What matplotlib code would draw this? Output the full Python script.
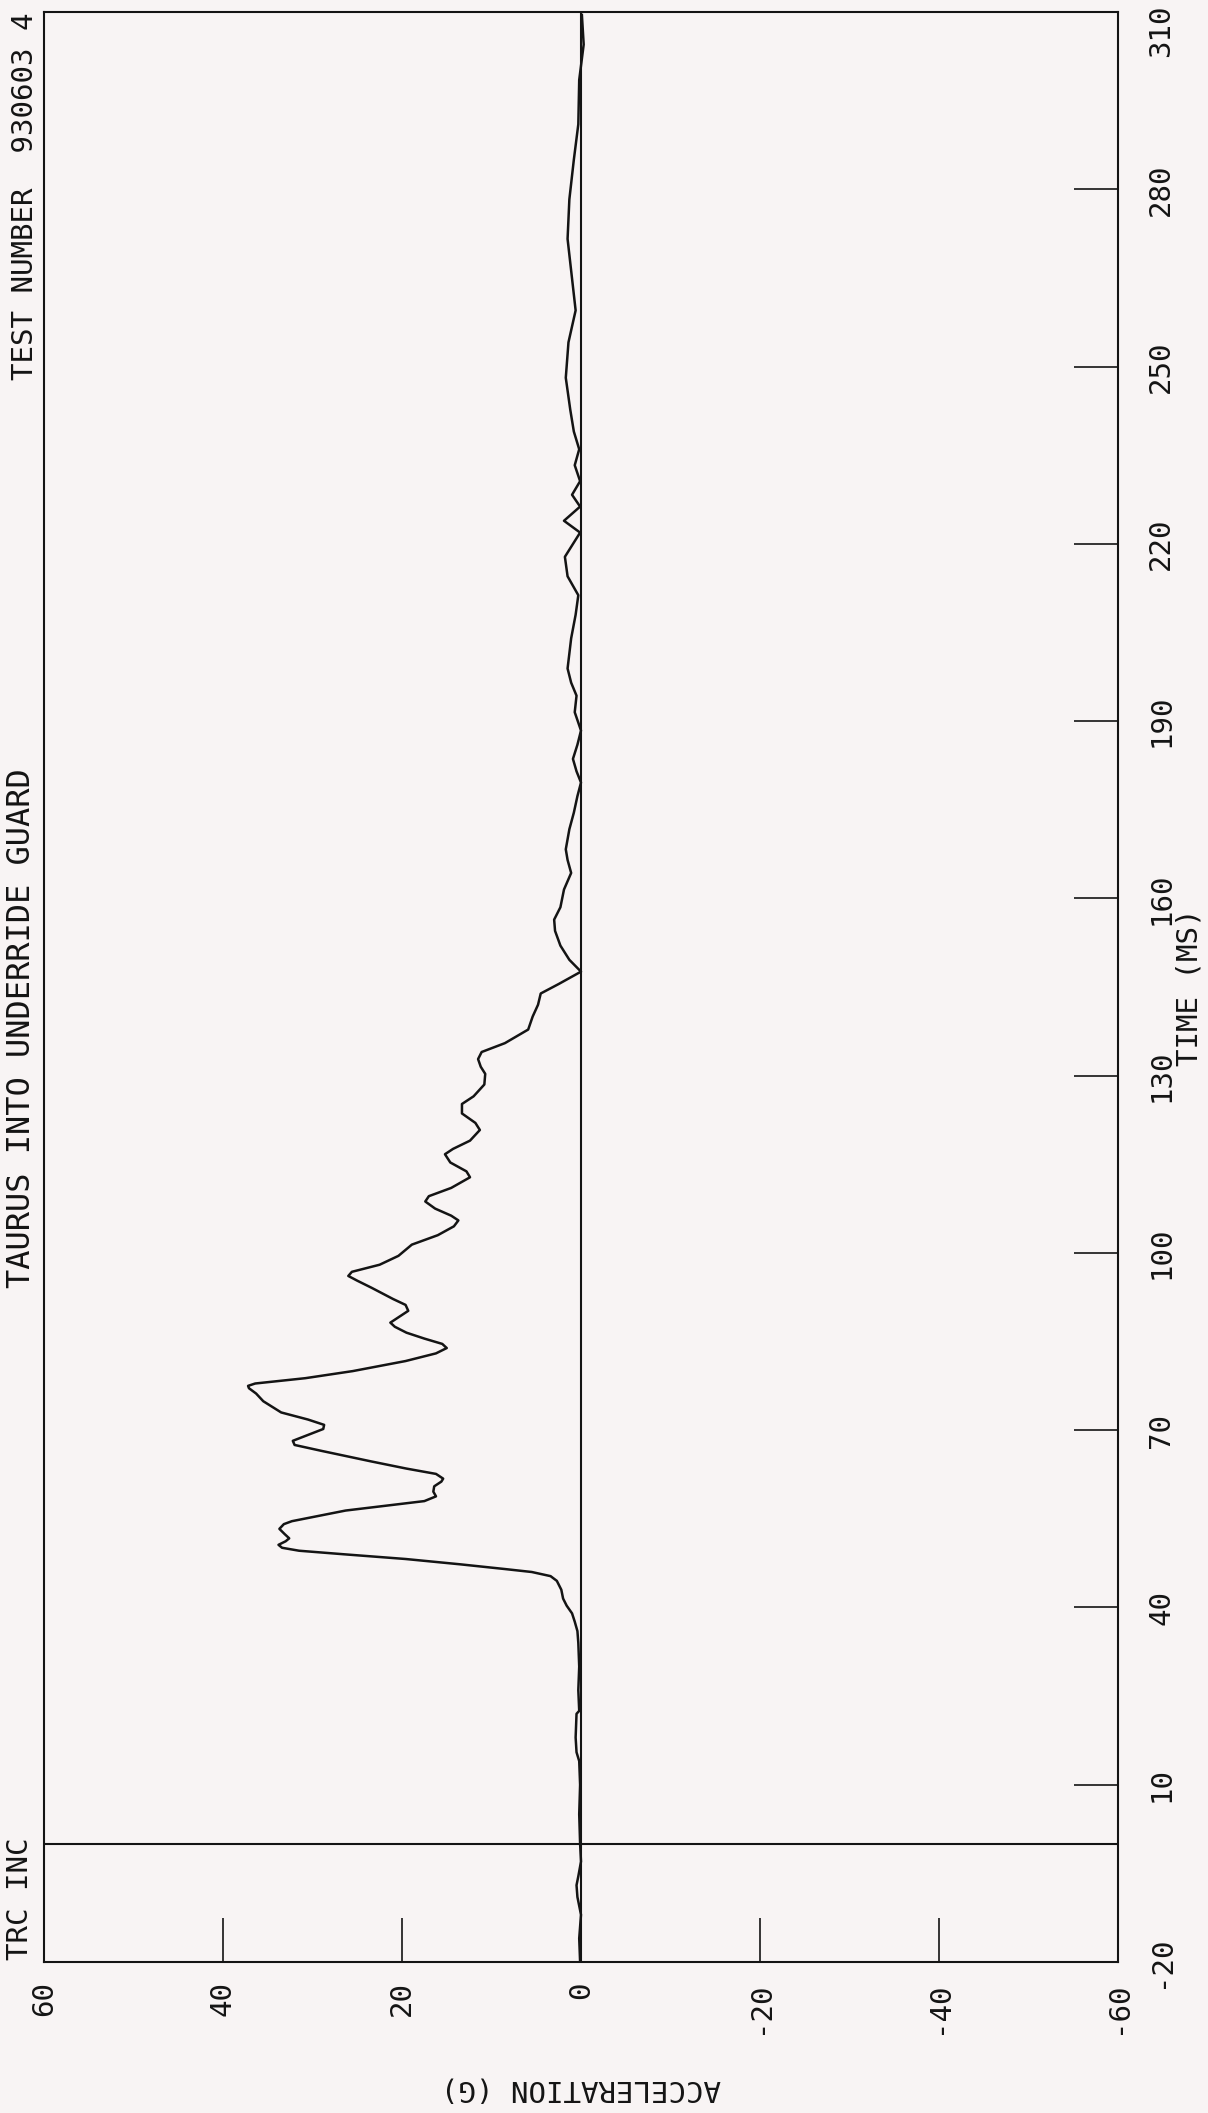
import matplotlib
matplotlib.use("Agg")
import matplotlib.pyplot as plt
import matplotlib.transforms as mtransforms

# crash pulse (time in ms, acceleration in G)
time_ms = [-20, -16, -12, -9, -7, -5.5, -3, 0, 5, 10, 14, 15.5, 18, 22, 22.5, 26, 30,
           34, 36, 37.6, 39, 40.3, 41.5, 43, 44.5, 45.3, 46, 46.5, 47.3, 48.2, 49, 49.6,
           50.1, 50.6, 51.2, 51.7, 52.4, 53.3, 54.1, 54.6, 56.4, 58.0, 58.8, 59.6, 60.5,
           61.3, 61.8, 62.6, 63.5, 64.7, 66.5, 67.5, 68.2, 69.2, 70.2, 70.9, 71.8, 73.0,
           74.9, 76.2, 77.1, 77.5, 77.9, 78.8, 80.0, 81.7, 83.0, 83.9, 84.6, 85.5, 86.5,
           87.5, 88.2, 89.0, 90.2, 91.2, 92.2, 94.1, 95.3, 96.1, 96.8, 98.0, 99.5, 101.4,
           103.0, 104.5, 105.5, 106.3, 107.5, 108.7, 109.6, 111.0, 112.8, 113.8, 115.3,
           116.7, 117.6, 119.0, 120.8, 122.0, 123.6, 125.2, 126.5, 128.5, 130.3, 131.5,
           132.8, 134.0, 135.5, 137.8, 140.0, 142.0, 143.9, 145.5, 147.6, 149.6, 152.0,
           154.5, 156.4, 158.5, 161.5, 164.3, 166.5, 168.3, 171.7, 174.5, 177.3, 179.6,
           181.5, 183.6, 186.0, 188.4, 191.5, 194.3, 196.5, 198.9, 201.5, 204.0, 208.0,
           211.3, 214.5, 217.8, 221.9, 223.9, 226.3, 228.3, 230.6, 233.3, 236.0, 239.0,
           242.7, 248.1, 254.1, 259.5, 266.2, 271.6, 278.3, 285.0, 291.0, 298.5, 304.5,
           309.5]
accel_g = [0.1, 0.2, 0.0, 0.4, 0.5, 0.3, 0.0, 0.1, 0.2, 0.1, 0.2, 0.5, 0.6, 0.5, 0.2, 0.3, 0.2,
           0.3, 0.4, 0.7, 1.0, 1.6, 2.0, 2.2, 2.7, 3.4, 5.5, 8.5, 13.5, 19.6, 26.5, 31.5,
           33.4, 33.8, 33.0, 32.6, 33.1, 33.7, 33.2, 32.3, 26.3, 17.5, 16.2, 16.5, 16.4,
           15.6, 15.4, 16.2, 19.5, 23.4, 29.0, 32.0, 32.2, 30.5, 28.8, 28.7, 30.5, 33.5,
           35.5, 36.3, 37.1, 37.2, 36.4, 30.8, 25.5, 19.6, 16.2, 15.0, 15.5, 17.5, 19.5,
           20.8, 21.3, 20.5, 19.3, 19.6, 21.0, 23.4, 25.0, 26.0, 25.6, 22.5, 20.4, 18.9,
           16.0, 14.2, 13.7, 14.5, 16.3, 17.4, 17.0, 14.5, 12.4, 12.8, 14.6,
           15.2, 14.3, 12.4, 11.3, 11.8, 13.3, 13.3, 12.0, 10.8, 10.7, 11.2,
           11.5, 11.1, 8.5, 5.9, 5.4, 4.8, 4.5, 2.5, 0.0, 1.3, 2.3,
           2.9, 3.0, 2.3, 1.9, 1.1, 1.5, 1.7, 1.3, 0.8, 0.4, 0.0,
           0.5, 0.9, 0.4, 0.0, 0.7, 0.5, 1.1, 1.5, 1.3, 1.1, 0.6,
           0.3, 1.5, 1.8, 0.1, 1.9, 0.1, 1.0, 0.1, 0.7, 0.2, 0.8,
           1.2, 1.7, 1.4, 0.6, 1.1, 1.5, 1.3, 0.8, 0.3, 0.2, -0.3,
           -0.1]

accel_ticks = [60, 40, 20, 0, -20, -40, -60]
time_ticks = list(range(-20, 311, 30))

paper = "#f8f4f4"
ink = "#141414"
font = "DejaVu Sans Mono"

plt.rcParams["font.family"] = font

W, H = 1208, 2113
fig = plt.figure(figsize=(W / 100, H / 100), dpi=100, facecolor=paper)

# the plot is printed sideways: acceleration runs across, time runs up the page
left, right, bottom, top = 44, 1118, 1962, 12
ax = fig.add_axes([left / W, 1 - bottom / H, (right - left) / W, (bottom - top) / H])
ax.set_facecolor(paper)

ax.plot(accel_g, time_ms, color=ink, lw=1.8)
ax.axvline(0, color=ink, lw=1.5)
ax.axhline(0, color=ink, lw=1.5)

ax.set_xlim(60, -60)
ax.set_ylim(-20, 310)

for s in ax.spines.values():
    s.set_linewidth(1.5)
    s.set_color(ink)

ax.set_xticks(accel_ticks, labels=[str(v) for v in accel_ticks])
ax.yaxis.tick_right()
# last time label sits on the top edge; it is placed by hand below so it stays on the page
ax.set_yticks(time_ticks, labels=[str(v) for v in time_ticks[:-1]] + [""])

ax.tick_params(axis="x", direction="in", length=31.7, width=1.2, color=ink,
               pad=14, labelsize=21, labelrotation=90, labelcolor=ink)
ax.tick_params(axis="y", direction="in", length=31.7, width=1.2, color=ink,
               pad=21, labelsize=21, labelrotation=90, labelcolor=ink,
               left=False, right=True)
for lbl in ax.get_yticklabels():
    lbl.set_va("center")

trans = mtransforms.blended_transform_factory(ax.transAxes, ax.transData)
ax.text(1 + 29 / (right - left), time_ticks[-1] + 1.3, str(time_ticks[-1]), transform=trans,
        rotation=90, ha="left", va="top", fontsize=21, color=ink)

ax.set_xlabel("ACCELERATION (G)", rotation=180, fontsize=21, labelpad=29, color=ink)
ax.yaxis.set_label_position("right")
ax.set_ylabel("TIME (MS)", rotation=90, fontsize=21, labelpad=0, color=ink)

# header lines along the left edge
fig.text(22 / W, 1 - 1028 / H, "TAURUS INTO UNDERRIDE GUARD", rotation=90,
         ha="center", va="center", fontsize=23, color=ink)
fig.text(25 / W, 1 - 12 / H, "TEST NUMBER  930603 4", rotation=90,
         ha="center", va="top", fontsize=21, color=ink)
fig.text(20 / W, 1 - 1960 / H, "TRC INC", rotation=90,
         ha="center", va="bottom", fontsize=21, color=ink)

fig.savefig("out.png", dpi=100, facecolor=paper)
